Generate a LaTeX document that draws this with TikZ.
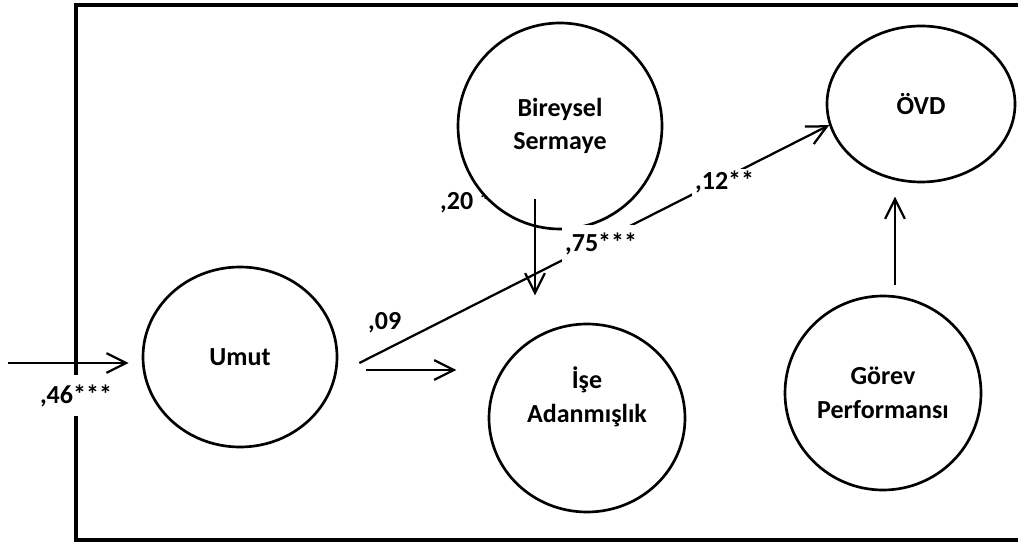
\documentclass[tikz,border=0pt]{standalone}
\usepackage{fontspec}
\setmainfont{Carlito}
\usetikzlibrary{arrows.meta,shapes.geometric,positioning}
\tikzset{
  var/.style 2 args={ellipse,draw,line width=1.9pt,fill=white,inner sep=0pt,
    minimum width=#1*0.025cm,minimum height=#2*0.025cm,align=center},
  arr/.style={-{Straight Barb[length=14pt,width=14pt]},line width=1.6pt},
  coef/.style={fill=white,inner xsep=2pt,inner ysep=#1,anchor=base west},
  coef/.default=0pt
}

\begin{document}
\begin{tikzpicture}[x=0.025cm,y=-0.025cm,every node/.style={font=\fontsize{18.5}{24}\selectfont\bfseries}]
  \useasboundingbox (0,0) rectangle (1018,543);
  % frame, open on the right
  \draw[line width=2.3pt] (1018,5) -- (76,5) -- (76,540) -- (1018,540);
  \node[coef=7pt,anchor=base] (c46) at (76,403) {,46***};

  % latent variables
  \node[coef] (c20) at (437,210) {,20\kern4pt*};
  \node[var={204}{206}] (bir) at (560,126) {Bireysel\\Sermaye};
  \node[var={194}{180}] (umut) at (240,357) {Umut};
  \node[var={196}{188},label={[yshift=15pt,align=center]center:İşe\\Adanmışlık}] (ise) at (587,418) {};
  \node[var={188}{156}] (ovd) at (921,104) {ÖVD};
  \node[var={196}{194}] (gor) at (883,393) {Görev\\Performansı};

  % paths
  \draw[arr] (umut.west) ++(-134,6) -- ++(121,0);
  \draw[arr] (umut.east) ++(28,13) -- ++(90,0);
  \draw[arr] (bir.south) ++(-25,-31) -- ++(0,96);
  \draw[arr] (gor.north) ++(12,-10) -- ++(0,-88);
  \draw[arr] (umut.east) ++(21,6) -- (ovd.193);

  % coefficients
  \node[coef] (c09) at (365,330) {,09};
  \node[coef=6pt] (c75) at (562,252) {,75***};
  \node[coef=2pt] (c12) at (692,190) {,12**};
\end{tikzpicture}
\end{document}
